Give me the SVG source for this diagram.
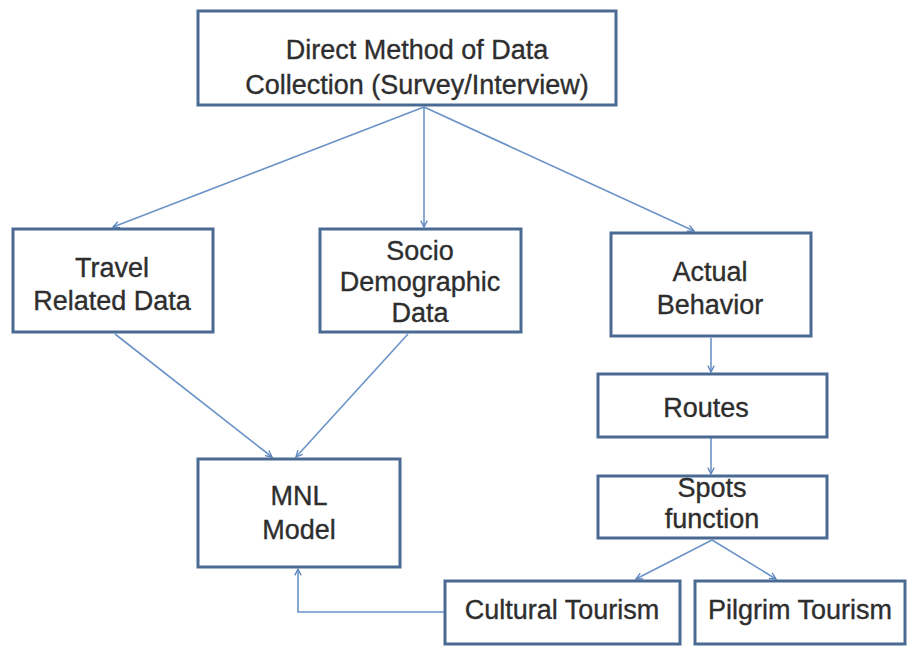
<svg xmlns="http://www.w3.org/2000/svg" width="913" height="648" viewBox="0 0 913 648">
  <defs>
    <marker id="arrow" viewBox="0 0 10 10" refX="9" refY="5" markerWidth="8" markerHeight="8" orient="auto-start-reverse" markerUnits="userSpaceOnUse">
      <path d="M1,1 L9,5 L1,9" fill="none" stroke="#5b84bd" stroke-width="1.6"/>
    </marker>
    <style>
      .box { fill: #ffffff; stroke: #4b6a93; stroke-width: 3; }
      .lbl { font-family: "Liberation Sans", Arial, sans-serif; font-size: 27px; fill: #2e2e2e; stroke: #2e2e2e; stroke-width: 0.35; text-anchor: middle; }
      .edge { fill: none; stroke: #6b93c8; stroke-width: 1.6; marker-end: url(#arrow); }
    </style>
  </defs>
  <rect width="913" height="648" fill="#ffffff"/>

  <g id="connectors">
    <line class="edge" x1="424" y1="107" x2="113" y2="227"/>
    <line class="edge" x1="424" y1="107" x2="424" y2="227"/>
    <line class="edge" x1="424" y1="107" x2="694" y2="231"/>
    <line class="edge" x1="115" y1="334" x2="272" y2="457"/>
    <line class="edge" x1="408" y1="334" x2="296" y2="457"/>
    <line class="edge" x1="711" y1="338" x2="711" y2="372"/>
    <line class="edge" x1="711" y1="438" x2="711" y2="474"/>
    <line class="edge" x1="712" y1="540" x2="636" y2="579"/>
    <line class="edge" x1="712" y1="540" x2="776" y2="579"/>
    <polyline class="edge" points="445,612 298,612 298,569"/>
  </g>

  <g id="node-direct">
    <rect class="box" x="198" y="11" width="418" height="94"/>
    <text class="lbl" x="417" y="59">Direct Method of Data</text>
    <text class="lbl" x="417" y="94">Collection (Survey/Interview)</text>
  </g>

  <g id="node-travel">
    <rect class="box" x="13" y="229" width="200" height="103"/>
    <text class="lbl" x="112" y="277">Travel</text>
    <text class="lbl" x="112" y="310">Related Data</text>
  </g>

  <g id="node-socio">
    <rect class="box" x="320" y="229" width="201" height="103"/>
    <text class="lbl" x="420" y="260">Socio</text>
    <text class="lbl" x="420" y="291">Demographic</text>
    <text class="lbl" x="420" y="322">Data</text>
  </g>

  <g id="node-actual">
    <rect class="box" x="611" y="233" width="200" height="103"/>
    <text class="lbl" x="710" y="281">Actual</text>
    <text class="lbl" x="710" y="314">Behavior</text>
  </g>

  <g id="node-routes">
    <rect class="box" x="598" y="374" width="229" height="63"/>
    <text class="lbl" x="706" y="417">Routes</text>
  </g>

  <g id="node-spots">
    <rect class="box" x="598" y="476" width="229" height="62"/>
    <text class="lbl" x="712" y="497">Spots</text>
    <text class="lbl" x="712" y="528">function</text>
  </g>

  <g id="node-mnl">
    <rect class="box" x="198" y="459" width="202" height="108"/>
    <text class="lbl" x="299" y="505">MNL</text>
    <text class="lbl" x="299" y="539">Model</text>
  </g>

  <g id="node-cultural">
    <rect class="box" x="445" y="581" width="235" height="63"/>
    <text class="lbl" x="562" y="619">Cultural Tourism</text>
  </g>

  <g id="node-pilgrim">
    <rect class="box" x="695" y="581" width="210" height="63"/>
    <text class="lbl" x="800" y="619">Pilgrim Tourism</text>
  </g>
</svg>
